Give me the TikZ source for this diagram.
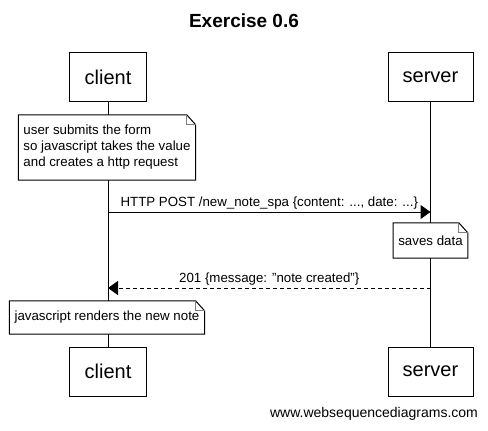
\documentclass[tikz,border=0pt]{standalone}
\usepackage{fontspec}
\setmainfont{Liberation Sans}
\usetikzlibrary{arrows.meta,positioning,calc}

\tikzset{
  actor/.style={draw,fill=white,line width=1pt,minimum width=77pt,minimum height=49pt,font=\fontsize{20}{24}\selectfont},
  notebox/.style={fill=white,align=left,inner xsep=5pt,minimum height=34pt,font=\fontsize{13.3}{16}\selectfont},
  msg/.style={line width=1pt,-{Triangle[length=10pt,width=14pt]}},
  msglabel/.style={midway,above,inner sep=2pt,font=\fontsize{13.3}{16}\selectfont}
}

\begin{document}
\begin{tikzpicture}[x=1pt,y=-1pt]
\useasboundingbox[fill=white] (0,0) rectangle (488,431);
\node[font=\bfseries\fontsize{19}{23}\selectfont] (title) at (244,21) {Exercise 0.6};
\node[actor] (ctop) at (108,77) {client};
\node[actor,minimum width=85pt] (stop) at (430.5,77) {server};
\node[actor] (cbot) at (108,371.5) {client};
\node[actor,minimum width=85pt] (sbot) at (430.5,371.5) {server};
% lifelines
\draw[line width=1pt] (ctop.south) -- (cbot.north);
\draw[line width=1pt] (stop.south) -- (sbot.north);
% notes
\node[notebox,minimum height=65pt] (n1) at (107,147.5) {user submits the form\\so javascript takes the value\\and creates a http request};
\node[notebox,minimum height=35pt] (n2) at (430.5,240.5) {saves data};
\node[notebox,minimum height=33pt] (n3) at (107,317.5) {javascript renders the new note};
\foreach \n in {n1,n2,n3} {
  \draw[line width=1pt] ([xshift=-9pt]\n.north east) -- (\n.north west) -- (\n.south west)
    -- (\n.south east) -- ([yshift=-10pt]\n.north east) -- cycle;
  \draw[gray,line width=1pt] ([xshift=-9pt]\n.north east) |- ([yshift=-10pt]\n.north east);
}
% messages
\coordinate (postc) at (ctop |- 0,212);
\coordinate (posts) at (stop |- 0,212);
\coordinate (respc) at (ctop |- 0,288);
\coordinate (resps) at (stop |- 0,288);
\draw[msg] (postc) -- (posts)
  node[msglabel] {HTTP POST /new\_note\_spa \{content: ..., date: ...\}};
\draw[msg,dash pattern=on 4pt off 3pt] (resps) -- (respc)
  node[msglabel] {201 \{message: \symbol{34}note created\symbol{34}\}};
\node[font=\fontsize{14}{17}\selectfont] (site) at (374,414) {www.websequencediagrams.com};
\end{tikzpicture}
\end{document}
